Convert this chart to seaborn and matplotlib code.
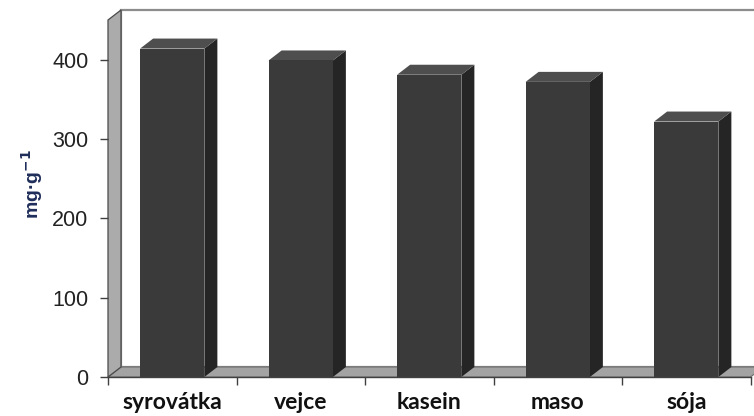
import numpy as np
import pandas as pd
import matplotlib
matplotlib.use("Agg")
import matplotlib.pyplot as plt
from matplotlib.patches import Polygon
import seaborn as sns

# Protein content by source (mg per g)
categories = ["syrovátka", "vejce", "kasein", "maso", "sója"]
values = [414, 399, 381, 372, 322]
y_ticks = [0, 100, 200, 300, 400]

sns.set_theme(style="white")
plt.rcParams["font.family"] = ["Liberation Sans", "DejaVu Sans"]

W, H, DPI = 754, 416, 100
fig = plt.figure(figsize=(W / DPI, H / DPI), dpi=DPI)
fig.patch.set_facecolor("white")

# axes placed in pixel terms: x from 108 to 750, y from 377 (0) to 20 (top)
left, right, bottom_px, top_px = 108, 750.5, 377, 20
ax = fig.add_axes([left / W, (H - bottom_px) / H, (right - left) / W,
                   (bottom_px - top_px) / H])
ax.set_facecolor("none")

df = pd.DataFrame({"zdroj": categories, "hodnota": values})
sns.barplot(data=df, x="zdroj", y="hodnota", color="#3a3a3a", width=0.5,
            saturation=1, ax=ax, edgecolor="none")

YMAX = 450
ax.set_xlim(-0.5, len(categories) - 0.5)
ax.set_ylim(0, YMAX)

# depth offset of the oblique projection, expressed in data units
depth_px = (13.0, 10.0)
fig.canvas.draw()
inv = ax.transData.inverted()
p0 = ax.transData.transform((0, 0))
p1 = inv.transform((p0[0] + depth_px[0], p0[1] + depth_px[1]))
DX, DY = p1[0], p1[1]

x0, x1 = ax.get_xlim()

# back wall
back = Polygon([(x0 + DX, DY), (x1 + DX, DY), (x1 + DX, YMAX + DY),
                (x0 + DX, YMAX + DY)], closed=True, facecolor="white",
               edgecolor="#8c8c8c", lw=1.6, clip_on=False, zorder=0.2)
ax.add_patch(back)

# floor
floor = Polygon([(x0, 0), (x1, 0), (x1 + DX, DY), (x0 + DX, DY)], closed=True,
                facecolor="#a3a3a3", edgecolor="#6e6e6e", lw=0.8,
                clip_on=False, zorder=0.4)
ax.add_patch(floor)

# side wall
wall = Polygon([(x0, 0), (x0, YMAX), (x0 + DX, YMAX + DY), (x0 + DX, DY)],
               closed=True, facecolor="#ababab", edgecolor="#4a4a4a", lw=0.9,
               clip_on=False, zorder=0.5)
ax.add_patch(wall)

# 3D faces on each bar
for p in list(ax.patches):
    if p in (back, floor, wall):
        continue
    bx, bw, bh = p.get_x(), p.get_width(), p.get_height()
    p.set_zorder(2)
    side = Polygon([(bx + bw, 0), (bx + bw, bh), (bx + bw + DX, bh + DY),
                    (bx + bw + DX, DY)], closed=True, facecolor="#252525",
                   edgecolor="none", zorder=1.9, clip_on=False)
    top = Polygon([(bx, bh), (bx + bw, bh), (bx + bw + DX, bh + DY),
                   (bx + DX, bh + DY)], closed=True, facecolor="#4e4e4e",
                  edgecolor="none", zorder=1.9, clip_on=False)
    ax.add_patch(side)
    ax.add_patch(top)

for s in ["top", "right", "left"]:
    ax.spines[s].set_visible(False)
ax.spines["bottom"].set_color("#404040")
ax.spines["bottom"].set_linewidth(1.0)
ax.spines["bottom"].set_zorder(3)

ax.set_yticks(y_ticks)
ax.set_yticklabels([str(v) for v in y_ticks])
ax.tick_params(axis="y", left=True, length=6, width=1.0, color="#404040",
               direction="out", labelsize=15.5, labelcolor="#222222", pad=8)

ax.set_xticks(np.arange(-0.5, len(categories), 1.0), minor=True)
ax.tick_params(axis="x", which="minor", bottom=True, length=6, width=1.0,
               color="#404040", direction="out")
ax.tick_params(axis="x", which="major", bottom=False, length=0, pad=11)
ax.set_xticks(range(len(categories)))
ax.set_xticklabels(categories, fontsize=16.5, fontweight="bold",
                   family=["Lato", "DejaVu Sans"], color="#111111")
ax.set_xlabel("")

ax.set_ylabel(r"mg·g$^{\mathbf{-1}}$", fontsize=14, fontweight="bold",
              color="#1f2d5a")
ax.yaxis.set_label_coords(-0.098, 0.54)

fig.savefig("out.png", dpi=DPI, facecolor="white")
